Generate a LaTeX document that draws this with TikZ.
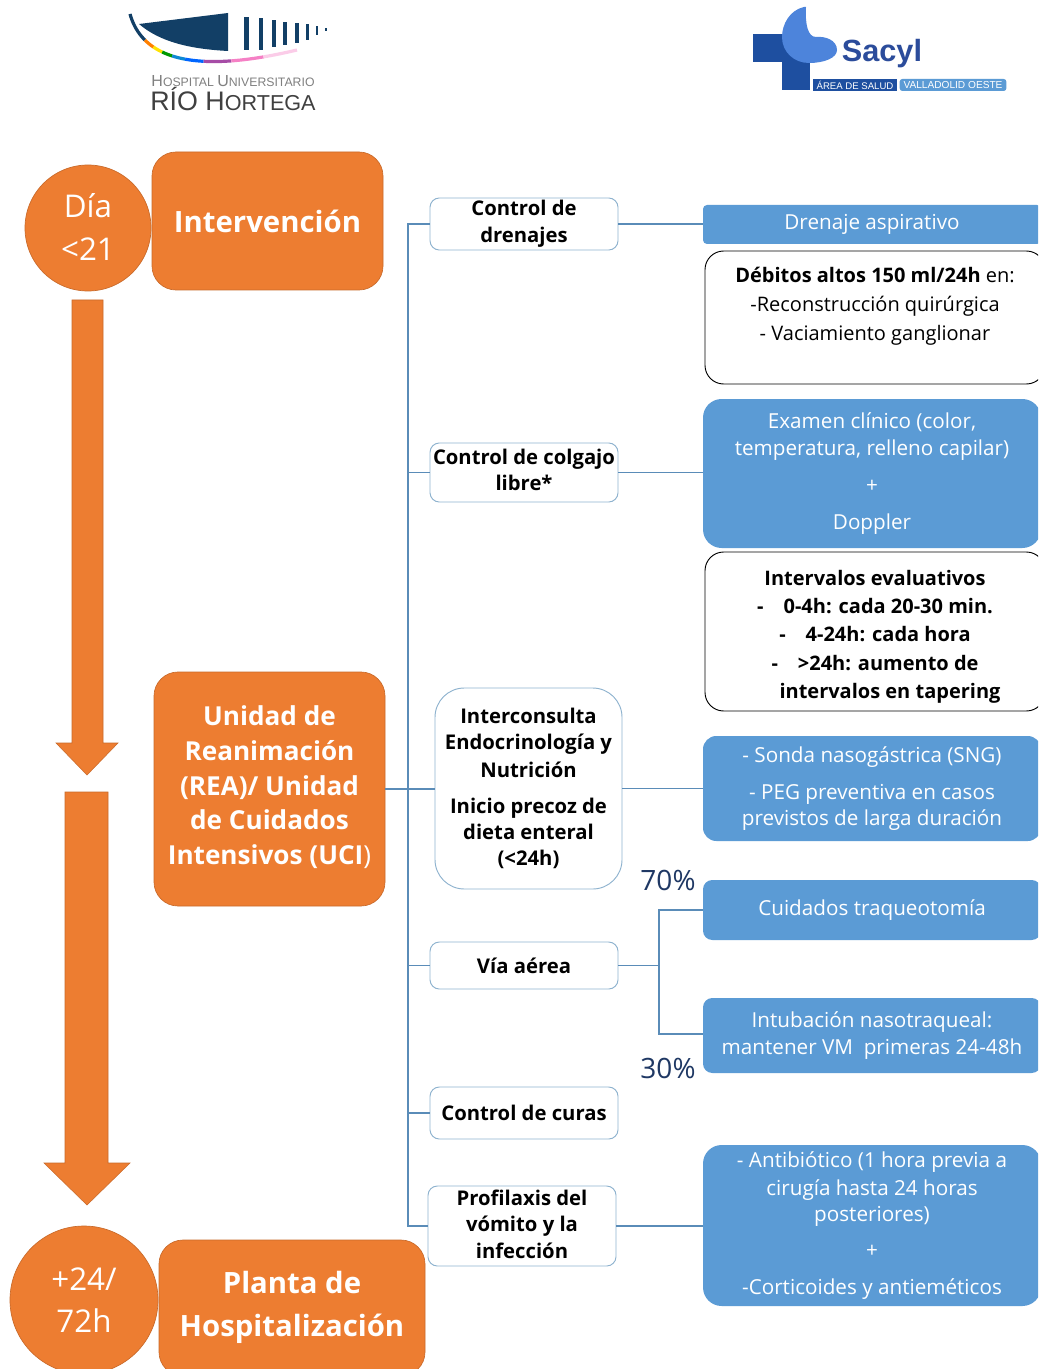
\documentclass[tikz,border=0pt]{standalone}
\usepackage{fontspec}
\setmainfont{Open Sans}
\newfontfamily\logofont{Liberation Sans}
\usetikzlibrary{calc}
\definecolor{orangeb}{HTML}{ED7D31}
\definecolor{blueb}{HTML}{5B9BD5}
\definecolor{linec}{HTML}{5A8CB8}
\definecolor{edgec}{HTML}{8FB3CF}
\definecolor{navy}{HTML}{1F3864}
\definecolor{logoblue}{HTML}{123F66}
\definecolor{sacylblue}{HTML}{1E4FA0}
\definecolor{sacyltext}{HTML}{2B4C9B}
\newcommand{\fs}[1]{\fontsize{#1}{#1}\selectfont}
\newcommand{\pbox}[7][]{%
  \node[#2,minimum width={(#5-#3)*0.75pt},minimum height={(#6-#4)*0.75pt},#1]
    (#7) at ({(#3+#5)/2},{(#4+#6)/2})}
\tikzset{
  orangebox/.style={fill=orangeb,draw=orangeb!85!black,line width=.5pt,rounded corners=18pt,text=white,align=center,inner sep=0pt,font=\bfseries\fs{22}},
  orangecirc/.style={circle,fill=orangeb,draw=orangeb!85!black,line width=.5pt,text=white,align=center,inner sep=0pt,font=\fs{23.5}},
  whitebox/.style={fill=white,draw=edgec,line width=.7pt,rounded corners=7pt,align=center,inner sep=0pt,font=\bfseries\fs{15.2}},
  bluebox/.style={fill=blueb,rounded corners=7pt,text=white,align=center,inner sep=0pt,font=\fs{15.5}},
  notebox/.style={fill=white,draw=black,line width=.7pt,rounded corners=14pt,align=center,inner sep=0pt,font=\fs{15}},
  conn/.style={draw=linec,line width=.9pt},
  bigarrow/.style={fill=orangeb,draw=orangeb!85!black,line width=.4pt},
  pct/.style={text=navy,font=\fs{21},inner sep=0pt}
}
\begin{document}
\begin{tikzpicture}[x=0.75pt,y=-0.75pt]
\clip (0,0) rectangle (1038,1369);
\fill[white] (0,0) rectangle (1038,1369);
% ---- hospital logo
\foreach \a/\b/\c in {0/.22/logoblue,.22/.30/orange,.30/.37/yellow!85!orange,.37/.44/green!60!black,.44/.52/cyan!70!blue,.52/.62/blue!60!cyan,.62/.75/violet!70,.75/.88/magenta!50,.88/1/magenta!20}{
  \draw[\c,line width=2.4pt] plot[domain=\a:\b,samples=12,variable=\t]
    ({(1-\t)^2*130+2*(1-\t)*\t*150+\t^2*297},{(1-\t)^2*14+2*(1-\t)*\t*85+\t^2*50});
}
\fill[logoblue] (139,24) -- (228,13) -- (228,51) .. controls (190,49) and (160,42) .. (139,24) -- cycle;
\foreach \x/\t/\b/\w in {246/17/50/5,261/18/50/4.5,274/20/47/4,285/22/45/4,297/23/43/3.5,307/24/40/3,317/26/35/2.5,326/28/31/2.5}{
  \fill[logoblue] (\x-\w/2,\t) rectangle (\x+\w/2,\b);
}
\node[inner sep=0pt,text=gray,font=\logofont] (hosp1) at (233,81.5) {\fs{12}H\fs{9.2}OSPITAL \fs{12}U\fs{9.2}NIVERSITARIO};
\node[inner sep=0pt,text=black!75,font=\logofont] (hosp2) at (233,99) {\fs{20.1}R\'IO H\fs{16.2}ORTEGA};
% ---- sacyl logo
\fill[sacylblue] (753,34) rectangle (783,62);
\fill[sacylblue] (782,34) rectangle (810,90);
\fill[blueb!85!blue] (804,7) .. controls (790,10) and (782,24) .. (782,37)
   .. controls (782,52) and (794,63) .. (809,63)
   .. controls (824,63) and (837,58) .. (837,50)
   .. controls (837,40) and (825,36) .. (816,37)
   .. controls (808,37) and (805,25) .. (806,7) -- cycle;
\node[inner sep=0pt,text=sacyltext,font=\logofont\bfseries\fs{23}] (sacyl) at (882,54) {Sacyl};
\node[fill=sacylblue,text=white,font=\logofont\fs{7.2},inner sep=0pt,minimum width=63pt,minimum height=9pt] (area) at (855,85) {\'AREA DE SALUD};
\node[fill=blueb,rounded corners=2pt,text=white,font=\logofont\fs{7.6},inner sep=0pt,minimum width=80pt,minimum height=9pt] (valla) at (953,85) {VALLADOLID OESTE};
% ---- big arrows
\path[bigarrow] (72,300) -- (103,300) -- (103,743) -- (118,743) -- (87,775) -- (56,743) -- (72,743) -- cycle;
\path[bigarrow] (65,792) -- (108,792) -- (108,1163) -- (130,1163) -- (87,1205) -- (44,1163) -- (65,1163) -- cycle;
% ---- left column
\node[orangecirc,minimum size=94.5pt] (dia) at (88,228) {D\'ia\\[8.5pt]<21\\[-22pt]~};
\pbox{orangebox}{152}{152}{383}{290}{interv} {Intervenci\'on};
\pbox{orangebox}{154}{672}{385}{906}{uci} {\fs{19.6}\begin{tabular}{@{}c@{}}Unidad de\\[5.2pt]Reanimaci\'on\\[5.2pt](REA)/ Unidad\\[5.2pt]de Cuidados\\[5.2pt]Intensivos (UCI\mdseries)\end{tabular}};
\node[orangecirc,minimum size=111pt] (mas) at (84,1300) {+24/\\[8pt]72h};
\pbox{orangebox}{159}{1240}{425}{1376}{planta} {\begin{tabular}{@{}c@{}}Planta de\\[9pt]Hospitalizaci\'on\end{tabular}};
% ---- second column
\pbox{whitebox}{430}{198}{618}{250}{drenajes} {Control de\\[5pt]drenajes};
\pbox{whitebox}{430}{443}{618}{502}{colgajo} {Control de colgajo\\[4.4pt]libre*\\[-11.5pt]~};
\pbox[rounded corners=22pt]{whitebox}{435}{688}{622}{889}{inter} {Interconsulta\\[4.6pt]Endocrinolog\'ia y\\[4pt]Nutrici\'on\\[12.5pt]Inicio precoz de\\[4pt]dieta enteral\\[4.4pt](<24h)};
\pbox{whitebox}{430}{942}{618}{989}{via} {V\'ia a\'erea};
\pbox{whitebox}{430}{1087}{618}{1139}{curas} {Control de curas};
\pbox{whitebox}{428}{1186}{616}{1266}{profi} {Profilaxis del\\[4.8pt]v\'omito y la\\[3.6pt]infecci\'on\\[-12pt]~};
% ---- right column
\pbox[rounded corners=3pt]{bluebox}{703}{205}{1041}{244}{dren} {Drenaje aspirativo};
\pbox{notebox}{705}{251}{1045}{384}{debitos} {\textbf{D\'ebitos altos 150 ml/24h} en:\\[6.4pt]-Reconstrucci\'on quir\'urgica\\[6.4pt]- Vaciamiento ganglionar\\[5.5pt]~};
\pbox[rounded corners=14pt]{bluebox}{703}{399}{1041}{548}{examen} {Examen cl\'inico (color,\\[5pt]temperatura, relleno capilar)\\[12pt]+\\[12pt]Doppler};
\pbox[font=\bfseries\fs{15}]{notebox}{705}{552}{1045}{711}{interv2} {Intervalos evaluativos\\[6.4pt]-\quad 0-4h: cada 20-30 min.\\[6pt]-\quad 4-24h: cada hora\\[6.4pt]-\quad >24h: aumento de\\[6.4pt]\hspace{1.5em}intervalos en tapering\\[-19.5pt]~};
\pbox[rounded corners=10pt]{bluebox}{703}{736}{1041}{841}{sonda} {- Sonda nasog\'astrica (SNG)\\[12pt]- PEG preventiva en casos\\[3pt]previstos de larga duraci\'on};
\pbox{bluebox}{703}{880}{1041}{940}{traq} {Cuidados traqueotom\'ia\\[-12pt]~};
\pbox{bluebox}{703}{998}{1041}{1073}{intub} {Intubaci\'on nasotraqueal:\\[5pt]mantener VM\ \ primeras 24-48h};
\pbox[rounded corners=14pt]{bluebox}{703}{1145}{1041}{1306}{anti} {- Antibi\'otico (1 hora previa a\\[4.5pt]cirug\'ia hasta 24 horas\\[3.5pt]posteriores)\\[12pt]+\\[12pt]-Corticoides y antiem\'eticos};
\node[pct] (p70) at (668,880) {70\%};
\node[pct] (p30) at (668,1068) {30\%};
% ---- connectors
\coordinate (trunk) at (408,789);
\coordinate (fork) at (659,965);
\draw[conn,line width=1.1pt] (uci.east) -- (trunk);
\draw[conn,line width=1.1pt] (trunk) |- (drenajes.west);
\draw[conn,line width=1.1pt] (trunk) |- (profi.west);
\draw[conn] (colgajo.west) -- (colgajo.west -| trunk);
\draw[conn] (trunk) -- (trunk -| inter.west);
\draw[conn] (via.west) -- (via.west -| trunk);
\draw[conn] (curas.west) -- (curas.west -| trunk);
\draw[conn] (drenajes.east) -- (drenajes.east -| dren.west);
\draw[conn] (colgajo.east) -- (colgajo.east -| examen.west);
\draw[conn] (inter.east) -- (inter.east -| sonda.west);
\draw[conn,line width=1.2pt] (via.east) -- (via.east -| fork);
\draw[conn] (fork) |- (traq.west);
\draw[conn] (fork) |- ($(intub.west)+(0,-1.5)$);
\draw[conn] (profi.east) -- (profi.east -| anti.west);
\end{tikzpicture}
\end{document}
